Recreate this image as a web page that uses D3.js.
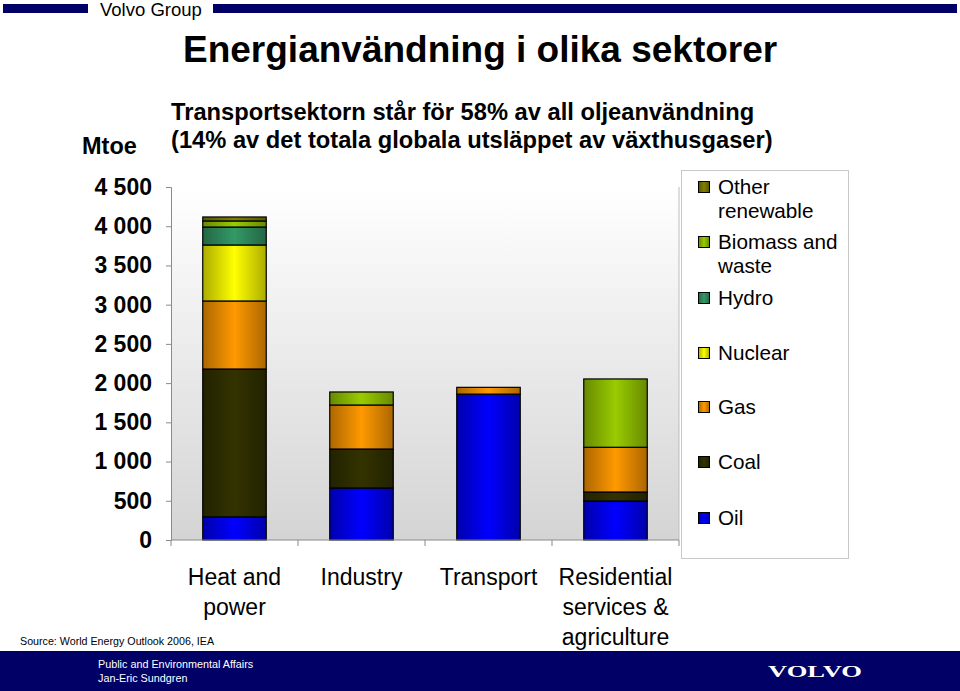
<!DOCTYPE html>
<html><head><meta charset="utf-8">
<script src="https://cdn.jsdelivr.net/npm/d3@7"></script>
<style>body{margin:0;background:#fff}svg{display:block;font-family:"Liberation Sans",Arial,sans-serif}</style>
</head><body>
<script>
const categories = [["Heat and","power"],["Industry"],["Transport"],["Residential","services &","agriculture"]];
const seriesNames = ["Oil","Coal","Gas","Nuclear","Hydro","Biomass and waste","Other renewable"];
const oil      = [295, 663, 1860, 497];
const coal     = [1885, 497, 0, 115];
const gas      = [867, 561, 86, 570];
const nuclear  = [714, 0, 0, 0];
const hydro    = [229, 0, 0, 0];
const biomass  = [77, 166, 0, 871];
const otherRen = [51, 0, 0, 0];
const yTicks = [0,500,1000,1500,2000,2500,3000,3500,4000,4500];
const colors = ["#0000ff","#333300","#ff9900","#ffff00","#339966","#99cc00","#808000"];
const legendLabels = [["Other","renewable"],["Biomass and","waste"],["Hydro"],["Nuclear"],["Gas"],["Coal"],["Oil"]];

const W=960,H=691;
const svg=d3.select("body").append("svg").attr("width",W).attr("height",H);
const defs=svg.append("defs");
const bg=defs.append("linearGradient").attr("id","bg").attr("x1",0).attr("y1",0).attr("x2",0).attr("y2",1);
bg.append("stop").attr("offset",0).attr("stop-color","#ffffff");
bg.append("stop").attr("offset",1).attr("stop-color","#d4d4d4");
colors.forEach((c,i)=>{
  const g=defs.append("linearGradient").attr("id","g"+i).attr("x1",0).attr("y1",0).attr("x2",1).attr("y2",0);
  const dark=d3.color(c).darker(1.1).formatHex();
  g.append("stop").attr("offset",0).attr("stop-color",dark);
  g.append("stop").attr("offset",0.5).attr("stop-color",c);
  g.append("stop").attr("offset",1).attr("stop-color",dark);
});

// header
const navy="#000066";
svg.append("rect").attr("x",3).attr("y",4).attr("width",85).attr("height",9).attr("fill",navy);
svg.append("rect").attr("x",213).attr("y",4).attr("width",744).attr("height",9).attr("fill",navy);
svg.append("text").attr("x",100).attr("y",16).attr("font-size",18.5).attr("fill","#000").text("Volvo Group");
svg.append("text").attr("x",183).attr("y",62).attr("font-size",37).attr("font-weight","bold").text("Energianvändning i olika sektorer");
svg.append("text").attr("x",171).attr("y",120).attr("font-size",23.7).attr("font-weight","bold").text("Transportsektorn står för 58% av all oljeanvändning");
svg.append("text").attr("x",171).attr("y",148).attr("font-size",23.7).attr("font-weight","bold").text("(14% av det totala globala utsläppet av växthusgaser)");
svg.append("text").attr("x",82).attr("y",154).attr("font-size",23.5).attr("font-weight","bold").text("Mtoe");

// plot
const x0=171,x1=679,yTop=187,yBot=540;
const y=d3.scaleLinear().domain([0,4500]).range([yBot,yTop]);
const x=d3.scaleBand().domain(d3.range(categories.length)).range([x0,x1]).paddingInner(0.5).paddingOuter(0.25);
const xb=d3.scaleBand().domain(d3.range(categories.length)).range([x0,x1]);
svg.append("rect").attr("x",x0).attr("y",yTop).attr("width",x1-x0).attr("height",yBot-yTop).attr("fill","url(#bg)");
svg.append("line").attr("x1",x1).attr("x2",x1).attr("y1",yTop).attr("y2",yBot).attr("stroke","#bdbdbd");

const data=categories.map((c,i)=>({i,Oil:oil[i],Coal:coal[i],Gas:gas[i],Nuclear:nuclear[i],Hydro:hydro[i],"Biomass and waste":biomass[i],"Other renewable":otherRen[i]}));
const stack=d3.stack().keys(seriesNames)(data);
stack.forEach((s,si)=>{
  svg.append("g").selectAll("rect").data(s.filter(d=>d[1]-d[0]>0)).join("rect")
    .attr("x",d=>x(d.data.i)).attr("width",x.bandwidth())
    .attr("y",d=>y(d[1])).attr("height",d=>y(d[0])-y(d[1]))
    .attr("fill","url(#g"+si+")").attr("stroke","#000").attr("stroke-width",1.2);
});

// axes
const ya=svg.append("g").attr("transform",`translate(${x0},0)`).call(d3.axisLeft(y).tickValues(yTicks).tickSize(5).tickFormat(d=>d3.format(",")(d).replace(/,/g," ")));
ya.select(".domain").attr("stroke","#8a8a8a");
ya.selectAll(".tick line").attr("stroke","#8a8a8a");
ya.selectAll(".tick text").attr("font-size",23).attr("font-weight","bold").attr("fill","#000").attr("x",-19).attr("font-family","Liberation Sans, Arial, sans-serif");
const xa=svg.append("g").attr("transform",`translate(0,${yBot})`);
xa.append("line").attr("x1",x0).attr("x2",x1).attr("stroke","#8a8a8a");
xa.selectAll("line.t").data(d3.range(categories.length+1)).join("line").attr("class","t")
  .attr("x1",d=>x0+d*xb.bandwidth()).attr("x2",d=>x0+d*xb.bandwidth()).attr("y1",0).attr("y2",6).attr("stroke","#8a8a8a");
categories.forEach((lines,i)=>{
  const t=svg.append("text").attr("font-size",23).attr("text-anchor","middle");
  lines.forEach((l,k)=>t.append("tspan").attr("x",xb(i)+xb.bandwidth()/2).attr("y",585+k*30).text(l));
});

// legend
svg.append("rect").attr("x",681.5).attr("y",170.5).attr("width",167).attr("height",388).attr("fill","#fff").attr("stroke","#c8c8c8");
const legY=[187,242,298,353,407,462,518];
legendLabels.forEach((lines,k)=>{
  const si=seriesNames.length-1-k;
  svg.append("rect").attr("x",698.5).attr("y",legY[k]-5.5).attr("width",11).attr("height",11).attr("fill","url(#g"+si+")").attr("stroke","#000");
  const t=svg.append("text").attr("font-size",20.7);
  lines.forEach((l,j)=>t.append("tspan").attr("x",718).attr("y",legY[k]+7+j*24).text(l));
});

// source & footer
svg.append("text").attr("x",20).attr("y",645).attr("font-size",10.7).text("Source: World Energy Outlook 2006, IEA");
svg.append("rect").attr("x",0).attr("y",651).attr("width",W).attr("height",40).attr("fill",navy);
svg.append("text").attr("x",98).attr("y",668).attr("font-size",10.8).attr("fill","#fff").text("Public and Environmental Affairs");
svg.append("text").attr("x",98).attr("y",682).attr("font-size",10.8).attr("fill","#fff").text("Jan-Eric Sundgren");
svg.append("text").attr("x",768).attr("y",677).attr("font-size",17).attr("font-weight","bold").attr("font-family","Liberation Serif, serif").attr("textLength",94).attr("lengthAdjust","spacingAndGlyphs").attr("fill","#fff").text("VOLVO");
</script>
</body></html>
